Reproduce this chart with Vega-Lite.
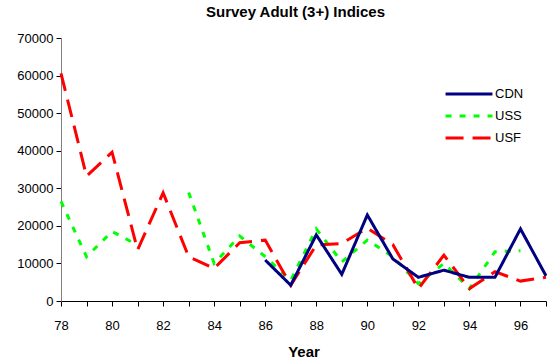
{
  "$schema": "https://vega.github.io/schema/vega-lite/v6.json",
  "width": 485,
  "height": 263,
  "autosize": {"type": "none"},
  "padding": {"left": 61, "top": 38, "right": 1, "bottom": 62},
  "background": "white",
  "config": {
    "view": {"stroke": null},
    "font": "Liberation Sans"
  },
  "title": {
    "text": "Survey Adult (3+) Indices",
    "fontSize": 15,
    "fontWeight": "bold",
    "font": "Liberation Sans",
    "color": "black",
    "anchor": "middle",
    "dx": -8,
    "offset": 12
  },
  "data": {
    "values": [
      {"year": 86, "series": "CDN", "value": 10900},
      {"year": 87, "series": "CDN", "value": 4200},
      {"year": 88, "series": "CDN", "value": 17600},
      {"year": 89, "series": "CDN", "value": 7100},
      {"year": 90, "series": "CDN", "value": 22900},
      {"year": 91, "series": "CDN", "value": 11200},
      {"year": 92, "series": "CDN", "value": 6300},
      {"year": 93, "series": "CDN", "value": 8200},
      {"year": 94, "series": "CDN", "value": 6300},
      {"year": 95, "series": "CDN", "value": 6300},
      {"year": 96, "series": "CDN", "value": 19200},
      {"year": 97, "series": "CDN", "value": 6700},
      {"year": 78, "series": "USS", "value": 26500},
      {"year": 79, "series": "USS", "value": 11800},
      {"year": 80, "series": "USS", "value": 18500},
      {"year": 81, "series": "USS", "value": 14900},
      {"year": 82, "series": "USS", "value": null},
      {"year": 83, "series": "USS", "value": 28900},
      {"year": 84, "series": "USS", "value": 10000},
      {"year": 85, "series": "USS", "value": 17300},
      {"year": 86, "series": "USS", "value": 11800},
      {"year": 87, "series": "USS", "value": 5500},
      {"year": 88, "series": "USS", "value": 19200},
      {"year": 89, "series": "USS", "value": 10400},
      {"year": 90, "series": "USS", "value": 16200},
      {"year": 91, "series": "USS", "value": 11800},
      {"year": 92, "series": "USS", "value": 4600},
      {"year": 93, "series": "USS", "value": 10000},
      {"year": 94, "series": "USS", "value": 3300},
      {"year": 95, "series": "USS", "value": 13100},
      {"year": 96, "series": "USS", "value": 13400},
      {"year": 78, "series": "USF", "value": 60600},
      {"year": 79, "series": "USF", "value": 33200},
      {"year": 80, "series": "USF", "value": 39600},
      {"year": 81, "series": "USF", "value": 13600},
      {"year": 82, "series": "USF", "value": 28800},
      {"year": 83, "series": "USF", "value": 11800},
      {"year": 84, "series": "USF", "value": 8700},
      {"year": 85, "series": "USF", "value": 15500},
      {"year": 86, "series": "USF", "value": 16200},
      {"year": 87, "series": "USF", "value": 4200},
      {"year": 88, "series": "USF", "value": 14900},
      {"year": 89, "series": "USF", "value": 15300},
      {"year": 90, "series": "USF", "value": 19400},
      {"year": 91, "series": "USF", "value": 15000},
      {"year": 92, "series": "USF", "value": 3300},
      {"year": 93, "series": "USF", "value": 12200},
      {"year": 94, "series": "USF", "value": 3300},
      {"year": 95, "series": "USF", "value": 7800},
      {"year": 96, "series": "USF", "value": 5300},
      {"year": 97, "series": "USF", "value": 6300}
    ]
  },
  "encoding": {
    "x": {
      "field": "year",
      "type": "quantitative",
      "scale": {"domain": [78, 97], "nice": false, "zero": false},
      "axis": {
        "title": "Year",
        "titleFontSize": 15,
        "titleFontWeight": "bold",
        "titleColor": "black",
        "titlePadding": 12,
        "values": [78,79,80,81,82,83,84,85,86,87,88,89,90,91,92,93,94,95,96,97],
        "labelExpr": "datum.value % 2 === 0 ? datum.label : ''",
        "labelFontSize": 13,
        "labelColor": "black",
        "labelPadding": 13,
        "labelFlush": false,
        "labelOverlap": false,
        "grid": false,
        "domainColor": "black",
        "tickColor": "black",
        "tickSize": 5
      }
    },
    "y": {
      "field": "value",
      "type": "quantitative",
      "scale": {"domain": [0, 70000], "nice": false},
      "axis": {
        "title": null,
        "values": [0,10000,20000,30000,40000,50000,60000,70000],
        "format": "d",
        "labelFontSize": 13,
        "labelColor": "black",
        "labelPadding": 3,
        "grid": false,
        "domainColor": "#808080",
        "tickColor": "black",
        "tickSize": 5
      }
    },
    "color": {
      "field": "series",
      "type": "nominal",
      "scale": {"domain": ["CDN", "USS", "USF"], "range": ["#000080", "#00FF00", "#FF0000"]},
      "legend": {
        "title": null,
        "orient": "none",
        "legendX": 383,
        "legendY": 45,
        "symbolType": "stroke",
        "symbolSize": 2200,
        "symbolStrokeWidth": 3,
        "labelFontSize": 13,
        "labelColor": "black",
        "labelOffset": 1,
        "clipHeight": 22,
        "rowPadding": 0
      }
    },
    "strokeDash": {
      "field": "series",
      "type": "nominal",
      "scale": {"domain": ["CDN", "USS", "USF"], "range": [[1, 0], [6, 8], [18, 9]]},
      "legend": null
    }
  },
  "layer": [
    {
      "transform": [{"filter": "datum.series === 'USS'"}],
      "mark": {"type": "line", "strokeWidth": 3, "invalid": "break-paths-show-domains"}
    },
    {
      "transform": [{"filter": "datum.series === 'USF'"}],
      "mark": {"type": "line", "strokeWidth": 3}
    },
    {
      "transform": [{"filter": "datum.series === 'CDN'"}],
      "mark": {"type": "line", "strokeWidth": 3}
    }
  ]
}
